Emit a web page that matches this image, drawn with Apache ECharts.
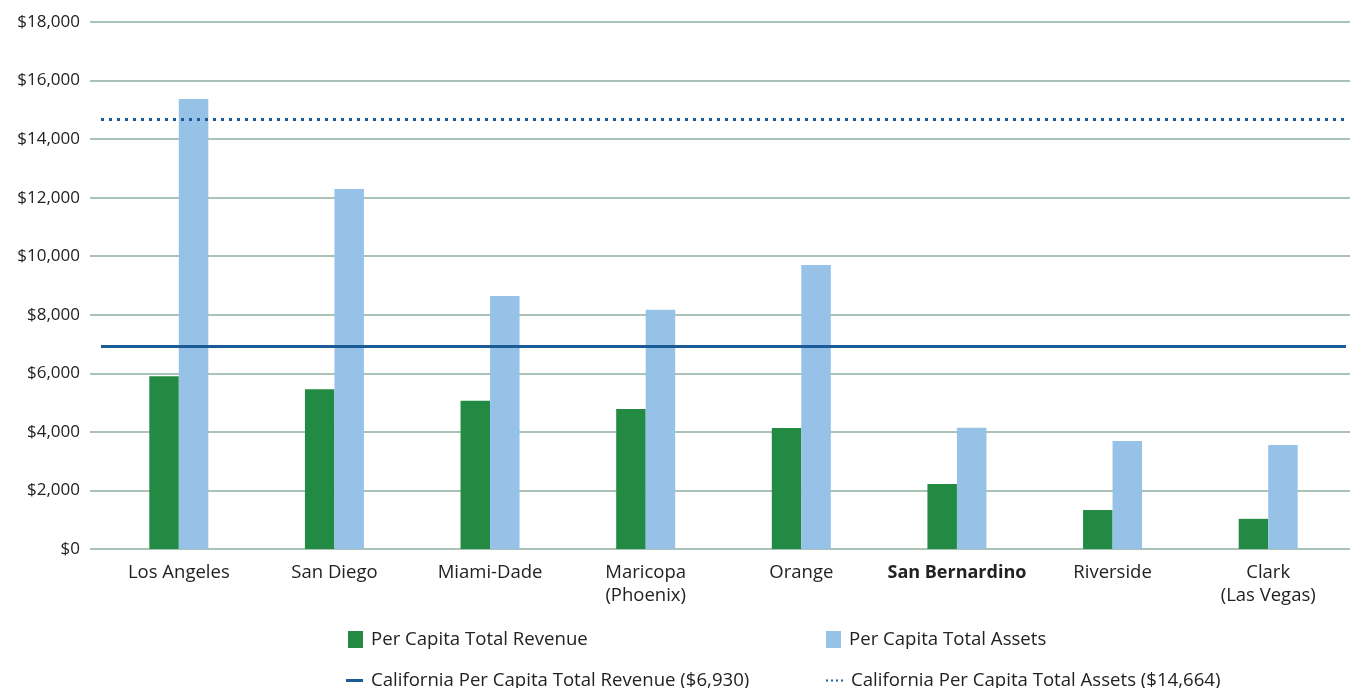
<!DOCTYPE html>
<html>
<head>
<meta charset="utf-8">
<script src="https://cdn.jsdelivr.net/npm/echarts@6/dist/echarts.min.js"></script>
<style>
html,body{margin:0;padding:0;background:#fff;}
#chart{width:1361px;height:688px;}
</style>
</head>
<body>
<div id="chart"></div>
<script>
// ---- Data ----
const categories = ['Los Angeles', 'San Diego', 'Miami-Dade', 'Maricopa\n(Phoenix)', 'Orange', 'San Bernardino', 'Riverside', 'Clark\n(Las Vegas)'];
const boldCategory = 'San Bernardino';
const revenue = [5900, 5460, 5060, 4780, 4130, 2220, 1330, 1030];
const assets = [15370, 12300, 8640, 8170, 9700, 4140, 3690, 3550];
const caRevenue = 6930;
const caAssets = 14664;
const seriesNames = ['Per Capita Total Revenue', 'Per Capita Total Assets',
  'California Per Capita Total Revenue ($6,930)', 'California Per Capita Total Assets ($14,664)'];
const yMin = 0, yMax = 18000, yInterval = 2000;

const FONT = '"Open Sans", "Noto Sans", sans-serif';
const GREEN = '#238a44', LIGHTBLUE = '#96c2e8', NAVY = '#1b5c98';
const GRIDCOL = '#8fae9f';

const chart = echarts.init(document.getElementById('chart'), null, {renderer: 'canvas'});

const yBase = {type: 'value', min: yMin, max: yMax, interval: yInterval};
const legText = {fontSize: 18.6, color: '#222', fontFamily: FONT, padding: [0, 0, 0, 3]};

const option = {
  animation: false,
  backgroundColor: '#fff',
  textStyle: {fontFamily: FONT},
  grid: [
    {left: 90, right: 11, top: 22, bottom: 139},
    {left: 101, right: 15, top: 22, bottom: 139}
  ],
  xAxis: [
    {gridIndex: 0, type: 'value', show: false, min: 0, max: 1},
    {gridIndex: 1, type: 'category', data: categories,
     axisLine: {show: false}, axisTick: {show: false},
     axisLabel: {
       margin: 12, fontSize: 18.5, color: '#222', fontFamily: FONT, lineHeight: 23,
       interval: 0,
       formatter: v => v === boldCategory ? '{b|' + v + '}' : v,
       rich: {b: {fontWeight: 'bold', fontSize: 18, color: '#222', fontFamily: FONT, lineHeight: 23}}
     }}
  ],
  yAxis: [
    Object.assign({gridIndex: 0,
      axisLine: {show: false}, axisTick: {show: false},
      axisLabel: {margin: 10, fontSize: 17, color: '#222', fontFamily: FONT,
        formatter: v => '$' + v.toLocaleString('en-US')},
      splitLine: {show: true, lineStyle: {color: GRIDCOL, width: 1.6}}}, yBase),
    Object.assign({gridIndex: 1, show: false, splitLine: {show: false}}, yBase)
  ],
  legend: [
    {data: [{name: seriesNames[0], icon: 'rect'}], left: 348, top: 630, padding: 0,
     itemWidth: 15, itemHeight: 17, itemGap: 0, textStyle: legText},
    {data: [{name: seriesNames[1], icon: 'rect'}], left: 826, top: 630, padding: 0,
     itemWidth: 15, itemHeight: 17, itemGap: 0, textStyle: legText},
    {data: [{name: seriesNames[2], icon: 'rect', itemStyle: {color: NAVY}}], left: 346, top: 671, padding: 0,
     itemWidth: 17, itemHeight: 3, itemGap: 0, textStyle: legText},
    {data: [{name: seriesNames[3], icon: 'path://M0 0h2v2H0z M5 0h2v2H5z M10 0h2v2h-2z M15 0h2v2h-2z', itemStyle: {color: NAVY}}],
     left: 826, top: 671, padding: 0,
     itemWidth: 17, itemHeight: 2, itemGap: 0, textStyle: legText}
  ],
  series: [
    {name: seriesNames[0], type: 'bar', xAxisIndex: 1, yAxisIndex: 1, data: revenue,
     barWidth: 29.5, barGap: '0%', itemStyle: {color: GREEN}},
    {name: seriesNames[1], type: 'bar', xAxisIndex: 1, yAxisIndex: 1, data: assets,
     barWidth: 29.5, barGap: '0%', itemStyle: {color: LIGHTBLUE}},
    {name: seriesNames[2], type: 'line', xAxisIndex: 1, yAxisIndex: 1, data: [],
     itemStyle: {color: NAVY}, lineStyle: {color: NAVY},
     markLine: {silent: true, symbol: 'none', label: {show: false},
       lineStyle: {color: NAVY, width: 3, type: 'solid'},
       data: [{yAxis: caRevenue}]}},
    {name: seriesNames[3], type: 'line', xAxisIndex: 1, yAxisIndex: 1, data: [],
     itemStyle: {color: NAVY}, lineStyle: {color: NAVY},
     markLine: {silent: true, symbol: 'none', label: {show: false},
       lineStyle: {color: NAVY, width: 3, type: [3, 5]},
       data: [{yAxis: caAssets}]}}
  ]
};
chart.setOption(option);
</script>
</body>
</html>
